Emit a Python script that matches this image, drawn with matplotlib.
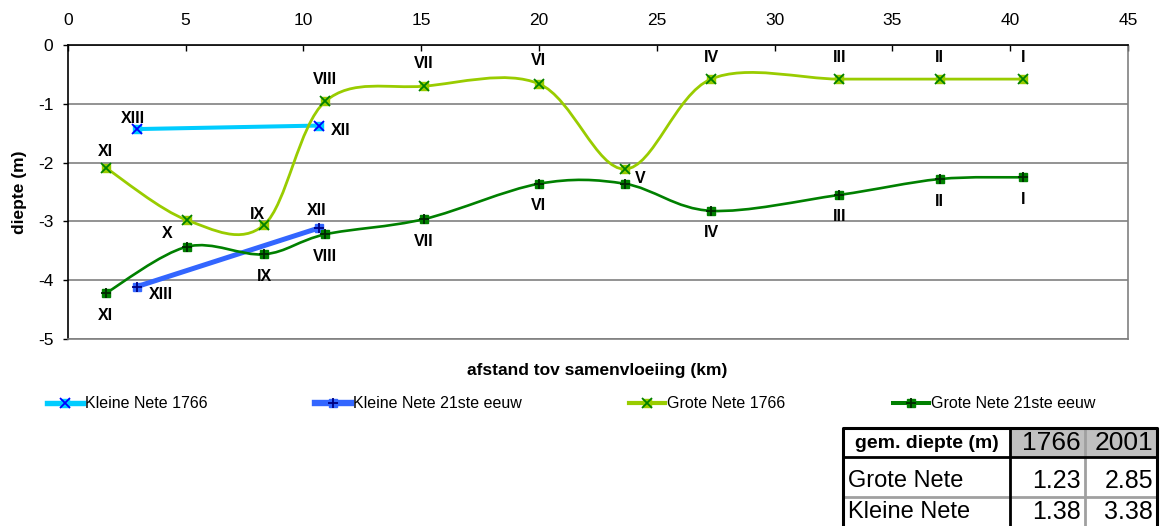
import numpy as np
import matplotlib
matplotlib.use('Agg')
import matplotlib.pyplot as plt
from matplotlib.path import Path
from matplotlib.patches import PathPatch, Rectangle
from matplotlib.lines import Line2D

plt.rcParams['font.family'] = ['Liberation Sans', 'DejaVu Sans']
plt.rcParams['axes.unicode_minus'] = False

# meetpunten: afstand tov samenvloeiing (km) en diepte (m)
grote_km = [1.62, 5.07, 8.33, 10.93, 15.13, 20.0, 23.65, 27.3, 32.74, 37.0, 40.54]
grote_1766 = [-2.09, -2.98, -3.06, -0.96, -0.70, -0.66, -2.11, -0.58, -0.58, -0.58, -0.58]
grote_2001 = [-4.22, -3.43, -3.56, -3.22, -2.96, -2.36, -2.36, -2.82, -2.55, -2.28, -2.25]
grote_1766_lab = ['XI', 'X', 'IX', 'VIII', 'VII', 'VI', 'V', 'IV', 'III', 'II', 'I']
grote_2001_lab = ['XI', '', 'IX', 'VIII', 'VII', 'VI', '', 'IV', 'III', 'II', 'I']

kleine_km = [2.93, 10.68]
kleine_1766 = [-1.43, -1.37]
kleine_2001 = [-4.11, -3.11]
kleine_lab = ['XIII', 'XII']

reeksen = ['Kleine Nete 1766', 'Kleine Nete 21ste eeuw', 'Grote Nete 1766', 'Grote Nete 21ste eeuw']

tabel_kop = ['gem. diepte (m)', '1766', '2001']
tabel_rivier = ['Grote Nete', 'Kleine Nete']
tabel_1766 = ['1.23', '1.38']
tabel_2001 = ['2.85', '3.38']

# label offsets in pixels (dx, dy), dy positive = up
off_g1766 = [(0, 16), (-20, -13), (-7, 10), (0, 22), (0, 23), (0, 23), (15, -9), (0, 22), (0, 22), (0, 22), (0, 22)]
off_g2001 = [(0, -22)] * 11
off_k1766 = [(-4, 11), (21, -5)]
off_k2001 = [(24, -8), (-3, 17)]


def smooth_path(x, y):
    # bezier door de punten, zoals een "vloeiende lijn" in Excel
    pts = np.column_stack([x, y])
    n = len(pts)
    verts = [pts[0]]
    codes = [Path.MOVETO]
    for i in range(n - 1):
        p0 = pts[max(i - 1, 0)]
        p1 = pts[i]
        p2 = pts[i + 1]
        p3 = pts[min(i + 2, n - 1)]
        verts += [p1 + (p2 - p0) / 6.0, p2 - (p3 - p1) / 6.0, p2]
        codes += [Path.CURVE4] * 3
    return Path(verts, codes)


fig = plt.figure(figsize=(11.62, 5.26), dpi=100)
W, H = 1162.0, 526.0
ax = fig.add_axes([67.7 / W, 1 - 339 / H, (1128 - 67.7) / W, (339 - 45) / H])

stijlen = [
    # x, y, lijnkleur, lijndikte, marker, markerkleur, labels, offsets
    (kleine_km, kleine_1766, '#00CCFF', 2.9, 'x', '#0000FF', kleine_lab, off_k1766),
    (kleine_km, kleine_2001, '#3366FF', 3.6, '+', '#000080', kleine_lab, off_k2001),
    (grote_km, grote_1766, '#99CC00', 2.0, 'x', '#008000', grote_1766_lab, off_g1766),
    (grote_km, grote_2001, '#008000', 1.9, '+', '#002800', grote_2001_lab, off_g2001),
]

handles = []
for x, y, kleur, lw, mk, mkleur, labels, offs in stijlen:
    ax.add_patch(PathPatch(smooth_path(x, y), facecolor='none', edgecolor=kleur,
                           lw=lw, capstyle='round', joinstyle='round'))
    ax.plot(x, y, ls='none', marker='s', ms=6.4, mfc=kleur, mec=kleur)
    ax.plot(x, y, ls='none', marker=mk, ms=6.8, mew=1.3, mec=mkleur)
    for xi, yi, lab, (dx, dy) in zip(x, y, labels, offs):
        if lab:
            ax.annotate(lab, (xi, yi), xytext=(dx, dy), textcoords='offset pixels',
                        ha='center', va='center', fontsize=11.5, fontweight='bold')
    h1 = Line2D([], [], color=kleur, lw=lw + 1, marker='s', ms=6.2, mfc=kleur, mec=kleur)
    h2 = Line2D([], [], ls='none', marker=mk, ms=6.5, mew=1.3, mec=mkleur)
    handles.append((h1, h2))

ax.set_xlim(0, 45)
ax.set_ylim(-5, 0)
ax.set_xticks(np.arange(0, 46, 5))
ax.set_yticks(np.arange(-5, 1, 1))
ax.xaxis.tick_top()
ax.tick_params(axis='x', direction='in', length=4.3, width=1, pad=12, labelsize=12.5)
ax.tick_params(axis='y', direction='out', length=3.6, width=1, pad=6.8, labelsize=12.5)
ax.grid(axis='y', color='#808080', lw=1.2)
ax.set_axisbelow(True)
ax.spines['top'].set_color('black')
ax.spines['left'].set_color('black')
ax.spines['right'].set_color('#808080')
ax.spines['bottom'].set_color('#808080')
for s in ax.spines.values():
    s.set_linewidth(1.2)

fig.text(597 / W, 1 - 370 / H, 'afstand tov samenvloeiing (km)', ha='center', va='center',
         fontsize=12.5, fontweight='bold')
fig.text(20 / W, 1 - 192 / H, 'diepte (m)', ha='center', va='center', rotation=90,
         fontsize=12.5, fontweight='bold')

fig.legend(handles, reeksen, loc='center left', bbox_to_anchor=(47 / W, 1 - 404 / H),
           ncol=4, frameon=False, fontsize=11.5, handlelength=2.25, handletextpad=0.15,
           columnspacing=6.7, borderpad=0, borderaxespad=0)

# tabel met gemiddelde diepte, getekend in pixelcoordinaten
tab = fig.add_axes([0, 0, 1, 1], zorder=5)
tab.set_xlim(0, W)
tab.set_ylim(H, 0)
tab.axis('off')
cx = [843, 1010, 1085, 1157]
ry = [428, 457, 497, 537]
for c in (1, 2):
    tab.add_patch(Rectangle((cx[c], ry[0]), cx[c + 1] - cx[c], ry[1] - ry[0],
                            facecolor='#C0C0C0', edgecolor='none'))
tab.plot([cx[2], cx[2]], [ry[0], ry[3]], color='#A0A0A0', lw=2)
tab.plot([cx[0], cx[3]], [ry[2], ry[2]], color='#A0A0A0', lw=2)
tab.plot([cx[1], cx[1]], [ry[0], ry[3]], color='black', lw=2)
tab.plot([cx[0], cx[3]], [ry[1], ry[1]], color='black', lw=2)
tab.plot([cx[0], cx[0], cx[3], cx[3]], [ry[3], ry[0], ry[0], ry[3]], color='black', lw=2.2)

tab.text((cx[0] + cx[1]) / 2, 443, tabel_kop[0], ha='center', va='center',
         fontsize=14, fontweight='bold')
tab.text(cx[2] - 4, 443, tabel_kop[1], ha='right', va='center', fontsize=19)
tab.text(cx[3] - 4, 443, tabel_kop[2], ha='right', va='center', fontsize=19)
for i, (riv, a, b) in enumerate(zip(tabel_rivier, tabel_1766, tabel_2001)):
    yy = [481, 512][i]
    tab.text(cx[0] + 5, yy, riv, ha='left', va='center', fontsize=17)
    tab.text(cx[2] - 4, yy, a, ha='right', va='center', fontsize=18)
    tab.text(cx[3] - 4, yy, b, ha='right', va='center', fontsize=18)

fig.savefig('out.png', dpi=100)
